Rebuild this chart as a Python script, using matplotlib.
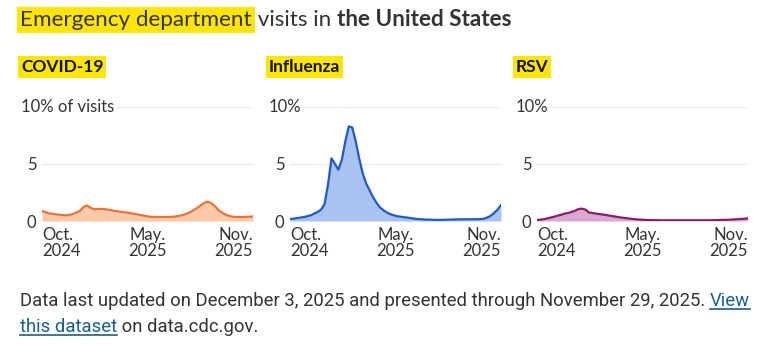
# %%
import numpy as np
import matplotlib.pyplot as plt
from matplotlib.lines import Line2D

# %%
# weekly share of ED visits (%), late Sep 2024 -> Nov 29 2025
weeks = np.arange(62)

covid = [0.88, 0.78, 0.67, 0.63, 0.58, 0.55, 0.52, 0.50, 0.55, 0.62,
         0.75, 0.90, 1.23, 1.37, 1.17, 1.03, 1.05, 1.06, 1.04, 1.00,
         0.95, 0.88, 0.84, 0.80, 0.76, 0.72, 0.67, 0.61, 0.56, 0.50,
         0.44, 0.38, 0.36, 0.35, 0.35, 0.35, 0.35, 0.36, 0.38, 0.42,
         0.47, 0.55, 0.67, 0.80, 0.98, 1.17, 1.40, 1.60, 1.70, 1.55,
         1.30, 0.96, 0.75, 0.58, 0.46, 0.38, 0.35, 0.35, 0.35, 0.37,
         0.38, 0.40]

flu = [0.18, 0.20, 0.25, 0.30, 0.35, 0.42, 0.50, 0.65, 0.80, 1.00,
       1.50, 3.20, 5.50, 5.00, 4.50, 5.40, 7.00, 8.30, 8.20, 7.00,
       5.50, 4.20, 3.30, 2.70, 2.10, 1.60, 1.20, 0.95, 0.75, 0.60,
       0.50, 0.42, 0.38, 0.33, 0.30, 0.25, 0.20, 0.17, 0.15, 0.13,
       0.12, 0.11, 0.10, 0.10, 0.10, 0.11, 0.12, 0.13, 0.14, 0.15,
       0.15, 0.15, 0.15, 0.15, 0.16, 0.17, 0.20, 0.30, 0.45, 0.70,
       1.00, 1.40]

rsv = [0.09, 0.12, 0.16, 0.23, 0.30, 0.38, 0.47, 0.55, 0.65, 0.70,
       0.80, 0.90, 1.05, 1.08, 1.00, 0.75, 0.70, 0.65, 0.61, 0.57,
       0.52, 0.47, 0.42, 0.37, 0.32, 0.28, 0.24, 0.20, 0.17, 0.14,
       0.12, 0.10, 0.09, 0.08, 0.07, 0.07, 0.06, 0.06, 0.06, 0.06,
       0.06, 0.06, 0.06, 0.06, 0.06, 0.06, 0.06, 0.06, 0.06, 0.06,
       0.06, 0.07, 0.08, 0.09, 0.10, 0.11, 0.12, 0.14, 0.16, 0.18,
       0.20, 0.23]

panel_names = ["COVID-19", "Influenza", "RSV"]
top_labels = ["10% of visits", "10%", "10%"]
x_ticks = [0, 30.5, 61]
x_tick_labels = ["Oct.\n2024", "May.\n2025", "Nov.\n2025"]

# %%
W, H = 765, 345
txt = "#333333"
hl = "#FFE600"
link = "#1B5E8C"
plt.rcParams['font.family'] = ['Lato', 'DejaVu Sans']

fig = plt.figure(figsize=(W / 100, H / 100), dpi=100)

series = [covid, flu, rsv]
lines = ["#E8743B", "#1F5BC6", "#8A1C6A"]
fills = ["#FAC9A6", "#A8C3EF", "#DDA8CF"]
lefts = [42, 290, 537]

first_ax = None
for name, top, vals, lc, fc, left in zip(panel_names, top_labels, series,
                                         lines, fills, lefts):
    ax = fig.add_axes([left / W, 1 - 221 / H, 211 / W, 114 / H])
    if first_ax is None:
        first_ax = ax
    ax.fill_between(weeks, vals, color=fc, lw=0)
    ax.plot(weeks, vals, color=lc, lw=1.6, solid_joinstyle='round')
    ax.set_xlim(0, 61)
    ax.set_ylim(0, 10)
    for s in ax.spines.values():
        s.set_visible(False)
    ax.set_yticks([0, 5, 10], ["0", "5", ""])
    ax.yaxis.grid(True, color="#EBEBEB", lw=1)
    ax.set_axisbelow(True)
    ax.set_xticks(x_ticks, x_tick_labels)
    ax.tick_params(length=0, labelsize=12, colors=txt, pad=4)
    ax.tick_params(axis='x', pad=4)
    xl = ax.get_xticklabels()
    xl[0].set_ha('left')
    xl[2].set_ha('right')
    for t in xl:
        t.set_linespacing(1.05)
    ax.text(-21 / 211, 10, top, transform=ax.get_yaxis_transform(),
            ha='left', va='center', fontsize=12, color=txt,
            bbox=dict(fc='white', ec='none', pad=1))
    # panel heading with highlighter
    fig.text((left - 21) / W, 1 - 67 / H, name, fontsize=12.5,
             fontweight='bold', color="#111111", va='center',
             bbox=dict(boxstyle='square,pad=0.15', fc=hl, ec='none'))

# %%
# title
t1 = fig.text(20 / W, 1 - 20 / H, "Emergency department", fontsize=16.2,
              color=txt, va='center',
              bbox=dict(boxstyle='square,pad=0.15', fc=hl, ec='none'))
t2 = first_ax.annotate(" visits in ", xy=(1, 0), xycoords=t1, va='bottom',
                       fontsize=16.2, color=txt, annotation_clip=False)
first_ax.annotate("the United States", xy=(1, 0), xycoords=t2, va='bottom',
                  fontsize=16.2, color=txt, fontweight='bold',
                  annotation_clip=False)

# footer
foot = ['Roboto', 'DejaVu Sans']
fs = 13.3
f1 = fig.text(20 / W, 1 - 301 / H,
              "Data last updated on December 3, 2025 and presented through "
              "November 29, 2025. ", fontsize=fs, color=txt, va='center',
              family=foot)
l1 = first_ax.annotate("View", xy=(1, 0), xycoords=f1, va='bottom',
                       fontsize=fs, color=link, family=foot,
                       annotation_clip=False)
l2 = fig.text(20 / W, 1 - 327 / H, "this dataset", fontsize=fs,
              color=link, va='center', family=foot)
first_ax.annotate(" on data.cdc.gov.", xy=(1, 0), xycoords=l2, va='bottom',
                  fontsize=fs, color=txt, family=foot,
                  annotation_clip=False)

# underline the links
fig.canvas.draw()
r = fig.canvas.get_renderer()
for lk in (l1, l2):
    bb = lk.get_window_extent(r)
    y = (bb.y0 + 1) / H
    fig.add_artist(Line2D([bb.x0 / W, bb.x1 / W], [y, y], color=link,
                          lw=1.2, transform=fig.transFigure))

fig.savefig("out.png", dpi=100)
